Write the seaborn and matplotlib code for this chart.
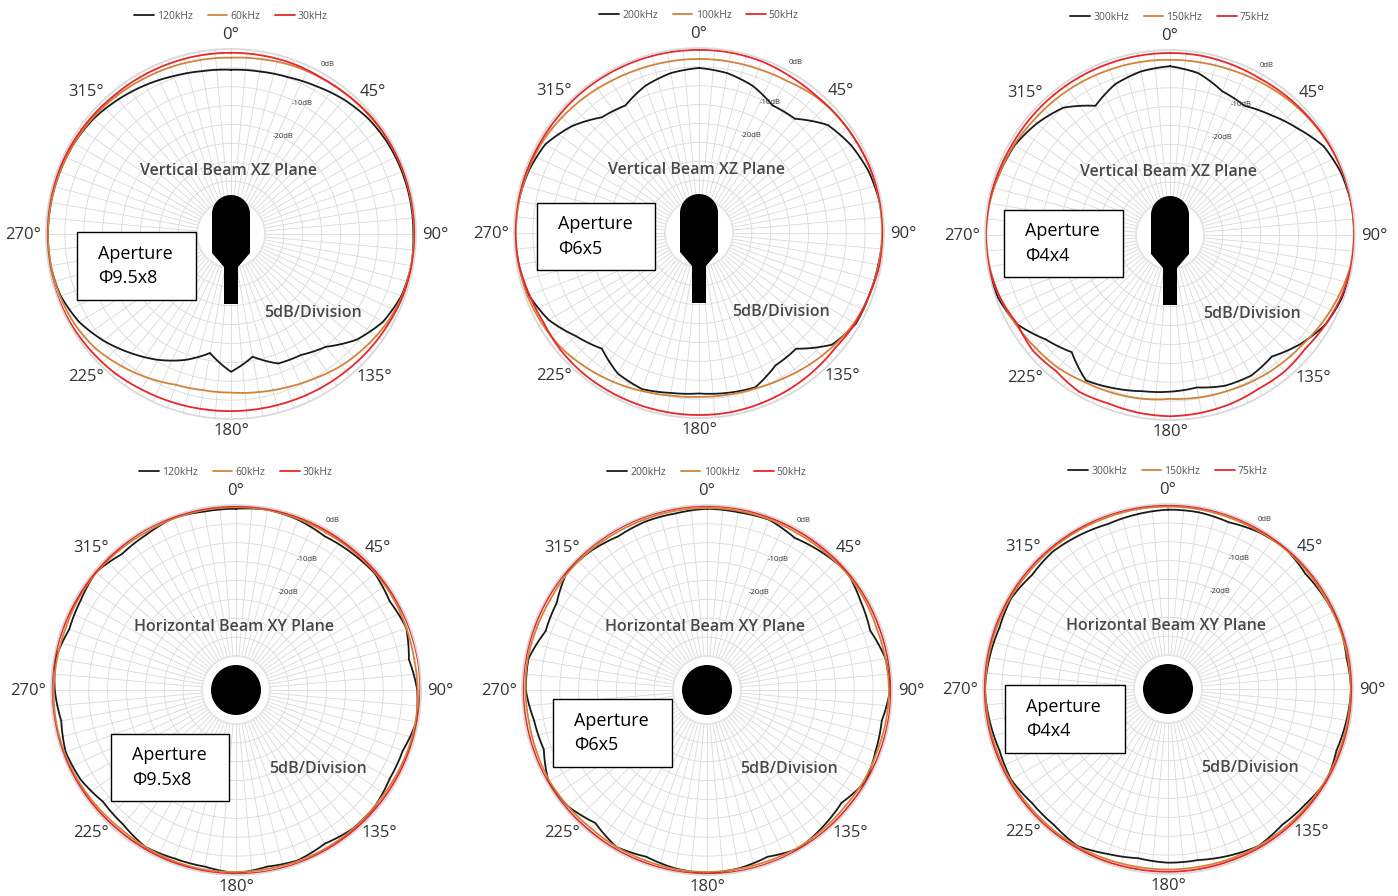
import numpy as np
import pandas as pd
import matplotlib
matplotlib.use("Agg")
import matplotlib.pyplot as plt
import seaborn as sns
from matplotlib.patches import Rectangle, Circle, Polygon

# angles in degrees, 0 at top, clockwise
angles = list(range(0, 360, 10))

# ---- Vertical beam XZ plane (dB) ----
v1_120k = [-5.5, -5.3, -4.8, -3.8, -2.5, -1.5, -1.0, -0.8, -0.7, -0.7, -0.5, -1.0,
           -2.5, -5.5, -10.0, -12.0, -12.5, -16.0, -12.5, -17.0, -13.5, -10.5, -7.8, -5.0,
           -2.5, -1.0, -0.5, -0.5, -0.6, -0.8, -1.0, -1.5, -2.5, -3.5, -4.5, -5.2]
v1_60k = [-2.3, -2.0, -1.5, -1.3, -1.0, -0.8, -0.6, -0.5, -0.5, -0.5, -0.6, -0.8,
          -1.5, -2.5, -3.5, -4.8, -5.8, -6.5, -7.0, -7.0, -6.5, -5.0, -3.5, -2.0,
          -1.2, -0.8, -0.6, -0.5, -0.6, -0.8, -1.0, -1.2, -1.5, -1.8, -2.0, -2.2]
v1_30k = [-1.0, -1.0, -1.0, -1.2, -1.0, -0.6, -0.5, -0.4, -0.3, -0.3, -0.4, -0.6,
          -1.0, -1.3, -1.6, -1.8, -2.0, -2.1, -2.1, -2.0, -1.8, -1.5, -1.0, -0.7,
          -0.4, -0.2, -0.1, -0.1, -0.2, -0.4, -0.6, -0.8, -1.0, -1.0, -1.0, -1.0]

v2_200k = [-5.3, -6.0, -7.5, -10.0, -9.5, -4.5, -2.5, -1.2, -0.5, -0.3, -0.8, -1.0,
           -1.0, -3.0, -9.0, -8.5, -5.5, -6.0, -6.5, -6.0, -5.0, -6.0, -9.0, -6.5,
           -3.0, -1.0, -0.5, -0.3, -0.5, -1.0, -2.0, -5.0, -9.0, -10.0, -7.5, -6.0]
v2_100k = [-2.9, -2.9, -2.8, -2.5, -1.5, -1.0, -0.8, -0.6, -0.5, -0.5, -0.7, -1.0,
           -1.5, -2.5, -3.5, -4.5, -5.2, -5.5, -5.6, -5.3, -4.5, -3.5, -2.5, -1.5,
           -1.0, -0.6, -0.5, -0.5, -0.6, -0.8, -1.0, -1.5, -2.0, -2.5, -2.8, -2.9]
v2_50k = [-0.5, -0.5, -0.6, -1.0, -1.2, -1.0, -0.8, -0.5, -0.3, -0.3, -0.4, -1.0,
          -1.2, -1.8, -1.5, -1.2, -1.0, -0.8, -0.8, -0.8, -0.8, -0.8, -0.8, -1.0,
          -1.5, -1.2, -0.6, -0.3, -0.3, -0.5, -0.6, -0.6, -0.5, -0.5, -0.5, -0.5]

v3_300k = [-4.3, -5.5, -8.5, -9.5, -7.5, -5.0, -2.0, -0.8, -0.3, -0.2, -0.3, -0.5,
           -1.5, -4.0, -7.0, -6.0, -6.5, -8.0, -7.5, -7.0, -5.8, -4.5, -8.5, -6.0,
           -2.0, -0.5, 0.0, 0.0, -0.3, -1.0, -1.5, -3.0, -5.0, -9.5, -6.5, -5.0]
v3_150k = [-2.6, -2.6, -2.4, -2.0, -1.5, -1.0, -0.6, -0.4, -0.3, -0.3, -0.5, -1.5,
           -2.5, -3.5, -4.0, -4.5, -5.0, -5.3, -5.6, -5.0, -4.5, -4.0, -3.0, -2.5,
           -1.8, -1.0, -0.5, -0.3, -0.5, -1.0, -1.3, -1.8, -2.0, -2.2, -2.4, -2.5]
v3_75k = [-0.8, -0.8, -1.0, -1.2, -1.0, -0.8, -0.5, -0.3, -0.2, -0.2, -0.3, -0.8,
          -1.5, -2.2, -1.8, -2.0, -1.5, -1.2, -1.0, -1.2, -1.5, -1.0, -2.0, -1.5,
          -2.2, -1.0, -0.3, -0.2, -0.3, -0.6, -0.8, -0.8, -0.8, -0.8, -0.8, -0.8]

# ---- Horizontal beam XY plane (dB) ----
h1_120k = [-1.0, -0.5, -1.0, -2.0, -1.5, -1.0, -2.0, -1.0, -2.5, -1.0, -0.5, -2.0,
           -2.0, -1.0, -1.0, -2.0, -1.0, -1.5, -0.5, -1.5, -1.5, -1.0, -2.5, -3.0,
           -1.5, -1.0, -2.0, -1.0, -0.5, -2.0, -1.5, -0.5, -2.0, -1.5, -0.5, -1.0]
h1_60k = [-0.6, -0.6, -0.8, -1.0, -0.9, -0.8, -0.8, -1.0, -1.1, -0.9, -0.7, -0.8,
          -1.0, -1.1, -0.9, -0.8, -0.8, -0.9, -0.8, -0.7, -0.8, -1.0, -1.2, -1.0,
          -0.8, -0.6, -0.6, -0.7, -0.9, -1.0, -0.8, -0.7, -0.8, -0.9, -0.7, -0.6]
h1_30k = [-0.3, -0.3, -0.4, -0.5, -0.6, -0.5, -0.4, -0.3, -0.2, -0.2, -0.3, -0.4,
          -0.5, -0.5, -0.5, -0.4, -0.3, -0.3, -0.3, -0.3, -0.4, -0.5, -0.6, -0.5,
          -0.4, -0.3, -0.2, -0.2, -0.3, -0.4, -0.5, -0.5, -0.4, -0.3, -0.3, -0.3]

h2_200k = [-1.0, -1.2, -1.0, -2.5, -1.5, -0.5, -2.0, -3.0, -1.0, -0.5, -2.0, -1.5,
           -0.5, -2.5, -1.5, -0.5, -2.0, -1.0, -0.5, -1.0, -2.0, -1.0, -3.0, -1.0,
           -0.5, -3.0, -2.5, -1.0, -1.0, -3.5, -3.0, -0.5, -1.0, -2.0, -1.5, -1.5]
h2_100k = [-0.8, -0.8, -0.9, -1.1, -1.0, -0.8, -0.9, -1.2, -1.0, -0.8, -0.9, -1.1,
           -1.0, -1.2, -1.0, -0.8, -0.9, -0.9, -0.8, -0.8, -1.0, -1.0, -1.2, -1.0,
           -0.8, -1.0, -1.1, -0.9, -0.8, -1.0, -1.1, -0.8, -0.8, -0.9, -0.9, -0.8]
h2_50k = [-0.3, -0.3, -0.4, -0.5, -0.5, -0.4, -0.4, -0.5, -0.4, -0.3, -0.3, -0.4,
          -0.4, -0.5, -0.4, -0.3, -0.3, -0.3, -0.3, -0.3, -0.4, -0.4, -0.5, -0.4,
          -0.3, -0.4, -0.4, -0.3, -0.3, -0.4, -0.4, -0.3, -0.3, -0.3, -0.3, -0.3]

h3_300k = [-1.5, -1.5, -2.0, -1.0, -0.5, -1.5, -1.0, -0.5, -1.0, -0.5, -1.0, -1.5,
           -0.5, -1.5, -2.0, -1.0, -2.0, -3.0, -3.0, -3.5, -2.5, -1.0, -2.0, -2.0,
           -1.0, -1.5, -1.0, -0.5, -1.0, -1.5, -1.0, -2.0, -1.5, -2.0, -2.5, -2.0]
h3_150k = [-0.7, -0.7, -0.8, -0.8, -0.7, -0.8, -0.9, -0.8, -0.7, -0.6, -0.7, -0.8,
           -0.8, -0.9, -1.0, -1.0, -1.1, -1.2, -1.2, -1.2, -1.1, -0.9, -0.9, -0.9,
           -0.8, -0.8, -0.7, -0.6, -0.7, -0.8, -0.8, -0.9, -0.8, -0.8, -0.8, -0.7]
h3_75k = [-0.3, -0.3, -0.3, -0.4, -0.4, -0.4, -0.4, -0.3, -0.3, -0.3, -0.3, -0.4,
          -0.4, -0.5, -0.5, -0.5, -0.6, -0.6, -0.6, -0.6, -0.5, -0.5, -0.4, -0.4,
          -0.4, -0.4, -0.3, -0.3, -0.3, -0.4, -0.4, -0.4, -0.4, -0.4, -0.3, -0.3]

freqs_a = ["120kHz", "60kHz", "30kHz"]
freqs_b = ["200kHz", "100kHz", "50kHz"]
freqs_c = ["300kHz", "150kHz", "75kHz"]
apertures = ["Φ9.5x8", "Φ6x5", "Φ4x4"]
angle_labels = ["0°", "45°", "90°", "135°", "180°", "225°", "270°", "315°"]

sns.set_theme(style="white")
plt.rcParams['font.family'] = ['Open Sans', 'DejaVu Sans']

W, H = 1398, 896
R = 185
fig = plt.figure(figsize=(W / 100, H / 100), dpi=100)

line_colors = ["#1a1a1a", "#d2823a", "#e8262b"]

# centre (px), series, labels, plane, aperture box (x0, y0, x1, y1)
panels = [
    ((231, 234), [v1_120k, v1_60k, v1_30k], freqs_a, "V", apertures[0], (77, 232, 196, 300)),
    ((699, 233), [v2_200k, v2_100k, v2_50k], freqs_b, "V", apertures[1], (537, 203, 655, 270)),
    ((1170, 235), [v3_300k, v3_150k, v3_75k], freqs_c, "V", apertures[2], (1004, 210, 1123, 277)),
    ((236, 690), [h1_120k, h1_60k, h1_30k], freqs_a, "H", apertures[0], (111, 734, 229, 801)),
    ((707, 690), [h2_200k, h2_100k, h2_50k], freqs_b, "H", apertures[1], (553, 699, 672, 767)),
    ((1168, 689), [h3_300k, h3_150k, h3_75k], freqs_c, "H", apertures[2], (1005, 685, 1125, 753)),
]

# where the angle labels sit, in px from the plot centre
label_offsets = [(0, -199), (142, -142), (204, 1), (143, 143),
                 (0, 197), (-145, 143), (-208, 1), (-145, -142)]


def px(dx, dy):
    # pixel offset from plot centre -> axes fraction
    return 0.5 + dx / (2 * R), 0.5 - dy / (2 * R)


for (cx, cy), series, labels, plane, aperture, box in panels:
    ax = fig.add_axes([(cx - R) / W, 1 - (cy + R) / H, 2 * R / W, 2 * R / H], projection="polar")

    rows = []
    for vals, lab in zip(series, labels):
        for a, v in zip(angles + [360], vals + [vals[0]]):
            rows.append({"theta": np.deg2rad(a), "dB": v, "freq": lab})
    df = pd.DataFrame(rows)
    sns.lineplot(data=df, x="theta", y="dB", hue="freq", hue_order=labels,
                 palette=dict(zip(labels, line_colors)), sort=False, estimator=None,
                 linewidth=1.3, ax=ax)
    # draw segments along the polar grid instead of as straight chords
    for ln in ax.lines:
        ln.get_path()._interpolation_steps = 12

    ax.set_theta_zero_location("N")
    ax.set_theta_direction(-1)
    ax.set_ylim(-40, 0)
    ax.set_rorigin(-49)
    ticks = np.arange(0, 360, 5)
    ax.set_xticks(np.deg2rad(ticks))
    ax.set_xticklabels([])
    ax.set_yticks(np.arange(-40, 1, 5))
    ax.set_yticklabels([])
    ax.grid(True, color="#d9d9d9", linewidth=0.6)
    ax.spines["polar"].set_color("#d9d9d9")
    ax.spines["inner"].set_color("#e4e4e4")
    ax.set_xlabel("")
    ax.set_ylabel("")

    for lab, (dx, dy) in zip(angle_labels, label_offsets):
        ax.text(*px(dx, dy), lab, transform=ax.transAxes, fontsize=12, color="#333333",
                ha="center", va="center")

    sns.move_legend(ax, "center", bbox_to_anchor=(0.5, 0.5 + 218 / (2 * R)), ncol=3,
                    frameon=False, title=None, fontsize=7.5, handlelength=1.9,
                    columnspacing=1.4, handletextpad=0.3)
    for t in ax.get_legend().get_texts():
        t.set_color("#555555")

    # dB ring labels
    for lab, (dx, dy) in zip(["0dB", "-10dB", "-20dB"], [(97, -170), (71, -131), (52, -98)]):
        ax.text(*px(dx, dy), lab, transform=ax.transAxes, fontsize=5.5, color="#333333",
                ha="center", va="center")

    title = "Vertical Beam XZ Plane" if plane == "V" else "Horizontal Beam XY Plane"
    ax.text(*px(-2, -63), title, transform=ax.transAxes, fontsize=11.5, fontweight="semibold",
            color="#484848", ha="center", va="center")
    ax.text(*px(82, 79), "5dB/Division", transform=ax.transAxes, fontsize=11.5,
            fontweight="semibold", color="#484848", ha="center", va="center")

    # transducer icon in the centre
    if plane == "V":
        t = np.linspace(0, np.pi, 25)
        pts = [(19 * np.cos(a), -20 - 19 * np.sin(a)) for a in t]
        pts += [(-19, 19), (-7, 33), (-7, 70), (7, 70), (7, 33), (19, 19)]
        ax.add_patch(Polygon([px(dx, dy) for dx, dy in pts], closed=True, transform=ax.transAxes,
                             facecolor="black", edgecolor="none", clip_on=False, zorder=5))
    else:
        ax.add_patch(Circle((0.5, 0.5), 25 / (2 * R), transform=ax.transAxes,
                            facecolor="black", edgecolor="none", clip_on=False, zorder=5))

    # aperture box
    x0, y0, x1, y1 = box
    fig.add_artist(Rectangle((x0 / W, 1 - y1 / H), (x1 - x0) / W, (y1 - y0) / H,
                             transform=fig.transFigure, facecolor="white", edgecolor="black",
                             linewidth=1.0, zorder=3))
    fig.text((x0 + 21) / W, 1 - ((y0 + y1) / 2) / H, "Aperture\n" + aperture, fontsize=13,
             color="black", ha="left", va="center", linespacing=1.45, zorder=4)

fig.savefig("out.png", dpi=100)
